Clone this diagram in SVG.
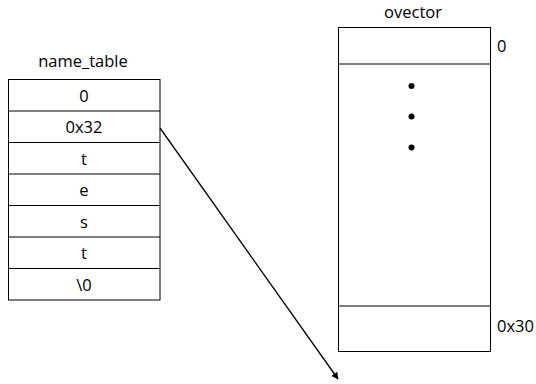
<svg xmlns="http://www.w3.org/2000/svg" width="536" height="384" viewBox="0 0 536 384">
  <defs>
    <style>
      .cell { fill: #ffffff; stroke: #000000; stroke-width: 1; }
      .sep { stroke: #000000; stroke-width: 1; }
      .lbl { font-family: "Open Sans", "Liberation Sans", sans-serif; font-size: 16.5px; fill: #000000; }
      .mid { text-anchor: middle; }
      .conn { stroke: #000000; stroke-width: 1.3; fill: none; }
    </style>
    <marker id="arrow" viewBox="0 0 10 10" refX="9" refY="5" markerWidth="7" markerHeight="7" markerUnits="userSpaceOnUse" orient="auto">
      <path d="M0,0 L10,5 L0,10 z" fill="#000000"/>
    </marker>
  </defs>

  <rect width="536" height="384" fill="#ffffff"/>

  <!-- name_table: seven stacked cells -->
  <g id="name_table">
    <text class="lbl mid" x="83" y="67">name_table</text>
    <rect class="cell" x="8.5" y="79.5" width="151.5" height="220.5"/>
    <line class="sep" x1="8.5" y1="111" x2="160" y2="111"/>
    <line class="sep" x1="8.5" y1="142.5" x2="160" y2="142.5"/>
    <line class="sep" x1="8.5" y1="174" x2="160" y2="174"/>
    <line class="sep" x1="8.5" y1="205.5" x2="160" y2="205.5"/>
    <line class="sep" x1="8.5" y1="237" x2="160" y2="237"/>
    <line class="sep" x1="8.5" y1="268.5" x2="160" y2="268.5"/>
    <text class="lbl mid" x="84" y="101.5">0</text>
    <text class="lbl mid" x="84" y="133">0x32</text>
    <text class="lbl mid" x="84" y="164.5">t</text>
    <text class="lbl mid" x="84" y="196">e</text>
    <text class="lbl mid" x="84" y="227.5">s</text>
    <text class="lbl mid" x="84" y="259">t</text>
    <text class="lbl mid" x="84" y="290.5">\0</text>
  </g>

  <!-- ovector: first slot, elided middle, last slot -->
  <g id="ovector">
    <text class="lbl mid" x="413" y="18">ovector</text>
    <rect class="cell" x="338.5" y="27.5" width="152" height="324"/>
    <line class="sep" x1="338.5" y1="64" x2="490.5" y2="64"/>
    <line class="sep" x1="338.5" y1="306" x2="490.5" y2="306"/>
    <circle cx="411.5" cy="86" r="3"/>
    <circle cx="411.5" cy="116.5" r="3"/>
    <circle cx="411.5" cy="147.5" r="3"/>
    <text class="lbl" x="497" y="52">0</text>
    <text class="lbl" x="497" y="332">0x30</text>
  </g>

  <g id="connectors">
    <line class="conn" x1="160" y1="128" x2="338" y2="379" marker-end="url(#arrow)"/>
  </g>
</svg>
